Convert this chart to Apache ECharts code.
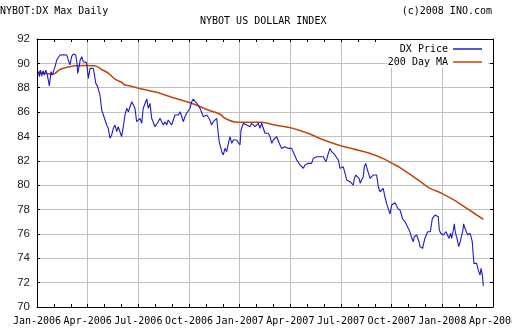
<!DOCTYPE html>
<html>
<head>
<meta charset="utf-8">
<script src="https://cdn.jsdelivr.net/npm/echarts@6/dist/echarts.min.js"></script>
<style>
  html, body { margin: 0; padding: 0; background: #fff; }
  #chart { width: 512px; height: 336px; }
</style>
</head>
<body>
<div id="chart"></div>
<script>
// Time is measured in months elapsed since 1 Jan 2006.
const quarterLabels = ['Jan-2006', 'Apr-2006', 'Jul-2006', 'Oct-2006', 'Jan-2007',
  'Apr-2007', 'Jul-2007', 'Oct-2007', 'Jan-2008', 'Apr-2008'];

// DX daily price
const priceMonth = [
  0.08, 0.14, 0.20, 0.28, 0.36, 0.43, 0.52, 0.59, 0.67, 0.73, 0.83, 0.91, 0.99, 1.07, 1.17, 1.26,
  1.36, 1.46, 1.56, 1.66, 1.76, 1.85, 1.95, 2.05, 2.15, 2.21, 2.29, 2.37, 2.41, 2.49, 2.56, 2.65,
  2.74, 2.84, 2.94, 3.04, 3.14, 3.24, 3.33, 3.39, 3.48, 3.59, 3.73, 3.83, 3.93, 4.03, 4.13, 4.22,
  4.32, 4.42, 4.52, 4.62, 4.72, 4.81, 4.91, 5.01, 5.11, 5.21, 5.31, 5.41, 5.51, 5.61, 5.70, 5.80,
  5.90, 6.00, 6.10, 6.20, 6.29, 6.39, 6.50, 6.59, 6.69, 6.79, 6.89, 6.99, 7.09, 7.18, 7.28, 7.38,
  7.48, 7.58, 7.68, 7.77, 7.87, 7.97, 8.07, 8.17, 8.27, 8.37, 8.47, 8.57, 8.66, 8.76, 8.86, 8.96,
  9.06, 9.16, 9.25, 9.35, 9.46, 9.55, 9.65, 9.75, 9.85, 9.95, 10.05, 10.14, 10.24, 10.34, 10.44, 10.54,
  10.64, 10.73, 10.79, 10.84, 10.94, 11.03, 11.13, 11.23, 11.33, 11.43, 11.53, 11.62, 11.72, 11.82, 11.92, 12.02,
  12.08, 12.16, 12.22, 12.32, 12.42, 12.51, 12.61, 12.71, 12.81, 12.91, 13.01, 13.10, 13.20, 13.30, 13.40, 13.50,
  13.60, 13.69, 13.80, 13.90, 13.99, 14.09, 14.19, 14.29, 14.39, 14.49, 14.58, 14.68, 14.78, 14.88, 14.98, 15.08,
  15.17, 15.28, 15.38, 15.47, 15.57, 15.67, 15.77, 15.87, 15.97, 16.06, 16.16, 16.26, 16.36, 16.46, 16.56, 16.66,
  16.76, 16.86, 16.95, 17.05, 17.11, 17.17, 17.25, 17.35, 17.45, 17.54, 17.64, 17.74, 17.84, 17.94, 18.04, 18.13,
  18.24, 18.34, 18.43, 18.53, 18.63, 18.73, 18.79, 18.87, 18.96, 19.07, 19.14, 19.22, 19.32, 19.38, 19.46, 19.54,
  19.62, 19.72, 19.82, 19.91, 20.01, 20.11, 20.21, 20.31, 20.41, 20.50, 20.60, 20.70, 20.80, 20.90, 21.00, 21.10,
  21.20, 21.36, 21.43, 21.49, 21.59, 21.63, 21.69, 21.79, 21.89, 21.98, 22.08, 22.14, 22.19, 22.28, 22.34, 22.42,
  22.48, 22.58, 22.62, 22.68, 22.78, 22.84, 22.87, 22.97, 23.07, 23.13, 23.21, 23.29, 23.37, 23.41, 23.49, 23.57,
  23.67, 23.76, 23.82, 23.90, 23.96, 24.06, 24.16, 24.22, 24.32, 24.39, 24.49, 24.55, 24.65, 24.71, 24.75, 24.81,
  24.87, 24.93, 24.97, 25.06, 25.15, 25.22, 25.26, 25.34, 25.44, 25.50, 25.54, 25.64, 25.70, 25.77, 25.83, 25.87,
  25.95, 26.03, 26.13, 26.23, 26.29, 26.37, 26.43
];
const priceValue = [
  89.32, 88.91, 89.45, 88.96, 89.40, 89.04, 89.45, 89.18, 88.63, 88.14, 89.32, 89.04, 89.40, 89.73, 90.28, 90.33,
  90.69, 90.55, 90.71, 90.60, 90.69, 90.28, 89.87, 90.55, 90.77, 90.88, 90.69, 90.00, 89.18, 89.73, 90.28, 90.55,
  90.14, 90.00, 90.06, 88.77, 89.59, 89.45, 89.59, 89.18, 88.36, 88.09, 87.40, 86.17, 86.03, 85.35, 84.93, 84.67,
  83.85, 84.12, 84.67, 84.93, 84.39, 84.80, 84.39, 83.98, 84.80, 85.76, 86.31, 86.03, 86.17, 86.85, 86.72, 86.31,
  85.21, 85.08, 85.49, 85.08, 86.31, 86.17, 87.07, 86.31, 86.72, 85.49, 85.35, 84.80, 84.67, 85.21, 85.49, 85.35,
  84.94, 85.21, 84.94, 85.35, 85.21, 84.94, 84.80, 85.76, 85.90, 85.76, 86.03, 85.62, 85.21, 85.62, 85.90, 85.76,
  86.31, 86.85, 87.07, 87.18, 86.72, 86.58, 86.31, 86.44, 85.62, 85.49, 85.76, 85.62, 85.35, 84.94, 85.21, 85.35,
  85.49, 84.26, 83.57, 83.43, 82.75, 82.48, 83.03, 82.75, 83.43, 83.98, 83.43, 83.71, 83.85, 83.71, 83.57, 83.30,
  84.53, 84.67, 85.08, 85.21, 84.94, 85.08, 84.80, 85.08, 85.21, 84.80, 84.94, 85.08, 84.67, 85.08, 85.08, 84.26,
  84.12, 84.26, 83.98, 83.43, 83.71, 83.85, 83.98, 84.12, 83.30, 83.02, 82.89, 83.16, 83.02, 83.02, 82.89, 83.02,
  82.75, 82.62, 82.07, 81.93, 81.66, 81.58, 81.39, 81.66, 81.52, 81.80, 81.93, 81.79, 82.20, 82.07, 82.34, 82.20,
  82.34, 82.20, 82.34, 82.20, 81.93, 82.20, 82.61, 83.02, 82.75, 82.61, 82.48, 82.34, 82.07, 81.38, 81.38, 81.52,
  80.97, 80.42, 80.42, 80.29, 80.15, 80.01, 80.56, 80.83, 80.83, 80.56, 80.15, 80.42, 80.70, 81.52, 81.79, 81.38,
  81.30, 80.56, 80.70, 80.83, 80.70, 80.83, 79.87, 79.46, 79.60, 79.74, 79.05, 78.50, 78.37, 77.63, 78.37, 78.50,
  78.56, 78.10, 78.24, 77.96, 77.55, 77.28, 77.41, 77.00, 76.73, 76.46, 76.18, 76.32, 75.64, 75.36, 75.77, 75.64,
  75.91, 75.77, 75.36, 74.95, 74.95, 74.81, 75.09, 75.64, 75.50, 76.18, 76.05, 76.18, 76.18, 77.28, 77.41, 77.55,
  77.69, 77.41, 76.32, 76.05, 76.18, 75.91, 75.77, 76.18, 76.05, 75.64, 76.05, 75.64, 76.32, 76.82, 76.32, 75.91,
  75.64, 75.50, 74.95, 75.36, 75.50, 76.32, 76.82, 76.46, 76.32, 75.91, 76.05, 76.05, 75.77, 75.36, 75.23, 73.58,
  73.45, 73.58, 73.03, 72.62, 73.17, 72.62, 71.72
];

// 200-day moving average
const maMonth = [
  0.08, 0.47, 0.87, 1.07, 1.26, 1.46, 1.85, 2.25, 2.84, 3.43, 3.83, 4.22, 4.62, 5.01, 5.21, 5.47,
  6.20, 7.18, 8.17, 9.16, 10.14, 10.84, 11.13, 11.72, 12.51, 13.30, 14.09, 14.88, 15.47, 16.16, 16.86, 17.84,
  18.83, 19.82, 20.60, 21.20, 21.49, 22.58, 23.17, 23.96, 24.75, 25.54, 26.43
];
const maValue = [
  89.30, 89.18, 89.10, 89.18, 89.40, 89.55, 89.70, 89.80, 89.82, 89.80, 89.50, 89.20, 88.70, 88.45, 88.22, 88.17,
  87.90, 87.59, 87.13, 86.72, 86.17, 85.82, 85.49, 85.19, 85.16, 85.16, 84.94, 84.75, 84.53, 84.20, 83.77, 83.30,
  82.94, 82.56, 82.12, 81.66, 81.44, 80.42, 79.82, 79.33, 78.73, 78.01, 77.19
];

const mono = 'DejaVu Sans Mono';
const priceColor = '#1c1cc8';
const maColor = '#c04808';
const frameColor = '#000';
const gridColor = '#c0c0c0';

const pairs = (xs, ys) => xs.map((x, i) => [x, ys[i]]);

const chart = echarts.init(document.getElementById('chart'), null, { renderer: 'canvas' });

const xBase = {
  type: 'value', min: 0, max: 27, interval: 3,
  axisLine: { show: true, onZero: false, lineStyle: { color: frameColor, width: 1 } },
  axisTick: { show: true, inside: true, length: 3, lineStyle: { color: frameColor } },
  minorTick: { show: true, splitNumber: 3, length: 3, lineStyle: { color: frameColor } }
};
const yBase = {
  type: 'value', min: 70, max: 92, interval: 2,
  axisLine: { show: true, onZero: false, lineStyle: { color: frameColor, width: 1 } },
  axisTick: { show: true, inside: true, length: 3, lineStyle: { color: frameColor } }
};

chart.setOption({
  animation: false,
  backgroundColor: '#fff',
  title: [
    { text: 'NYBOT:DX Max Daily', left: 0, top: 6, padding: 0,
      textStyle: { fontFamily: mono, fontSize: 10, fontWeight: 'normal', color: '#000' } },
    { text: '(c)2008 INO.com', right: 20, top: 6, padding: 0,
      textStyle: { fontFamily: mono, fontSize: 10, fontWeight: 'normal', color: '#000' } },
    { text: 'NYBOT US DOLLAR INDEX', left: 200, top: 16, padding: 0,
      textStyle: { fontFamily: mono, fontSize: 10, fontWeight: 'normal', color: '#000' } }
  ],
  legend: {
    orient: 'vertical', right: 24, top: 40, align: 'right',
    padding: [3, 6, 0, 1], itemGap: 1,
    backgroundColor: '#fff',
    icon: 'rect', itemWidth: 29, itemHeight: 1.5,
    textStyle: { fontFamily: mono, fontSize: 10, color: '#000', lineHeight: 12 },
    data: ['DX Price', '200 Day MA']
  },
  grid: { left: 37, right: 19, top: 39, bottom: 29, containLabel: false, outerBoundsMode: 'none' },
  xAxis: [
    Object.assign({}, xBase, {
      position: 'bottom',
      splitLine: { show: true, lineStyle: { color: gridColor, width: 1 } },
      axisLabel: {
        margin: 9, fontFamily: mono, fontSize: 10, color: '#000',
        formatter: v => quarterLabels[Math.round(v / 3)] || ''
      }
    }),
    Object.assign({}, xBase, {
      position: 'top',
      splitLine: { show: false },
      axisLabel: { show: false }
    })
  ],
  yAxis: [
    Object.assign({}, yBase, {
      position: 'left',
      splitLine: { show: true, lineStyle: { color: gridColor, width: 1 } },
      axisLabel: { margin: 7, fontFamily: 'Liberation Sans', fontSize: 11.5, color: '#222' }
    }),
    Object.assign({}, yBase, {
      position: 'right',
      splitLine: { show: false },
      axisLabel: { show: false }
    })
  ],
  series: [
    {
      name: 'DX Price', type: 'line', xAxisIndex: 0, yAxisIndex: 0,
      data: pairs(priceMonth, priceValue),
      showSymbol: false, symbol: 'none',
      lineStyle: { color: priceColor, width: 1.1 },
      itemStyle: { color: priceColor },
      z: 3
    },
    {
      name: '200 Day MA', type: 'line', xAxisIndex: 0, yAxisIndex: 0,
      data: pairs(maMonth, maValue),
      showSymbol: false, symbol: 'none', smooth: 0.3,
      lineStyle: { color: maColor, width: 1.6 },
      itemStyle: { color: maColor },
      z: 2
    }
  ]
});
</script>
</body>
</html>
